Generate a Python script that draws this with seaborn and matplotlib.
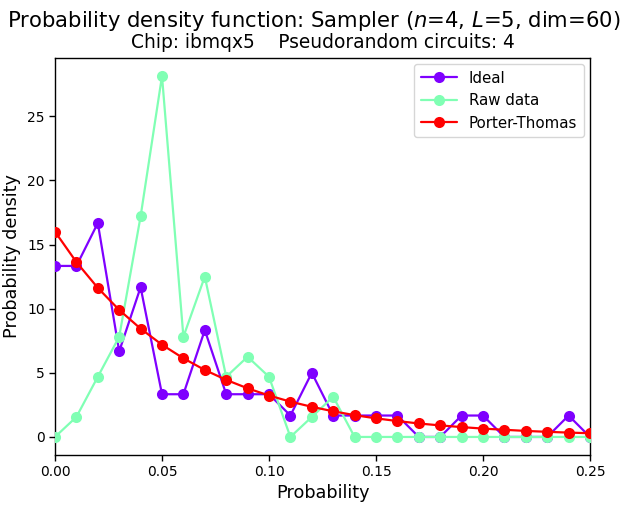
import numpy as np
import pandas as pd
import matplotlib
matplotlib.use("Agg")
import matplotlib.pyplot as plt
import seaborn as sns
from matplotlib.lines import Line2D

probability = [0.00, 0.01, 0.02, 0.03, 0.04, 0.05, 0.06, 0.07, 0.08, 0.09,
               0.10, 0.11, 0.12, 0.13, 0.14, 0.15, 0.16, 0.17, 0.18, 0.19,
               0.20, 0.21, 0.22, 0.23, 0.24, 0.25]
ideal = [13.33, 13.33, 16.67, 6.67, 11.67, 3.33, 3.33, 8.33, 3.33, 3.33,
         3.33, 1.67, 5.00, 1.67, 1.67, 1.67, 1.67, 0.00, 0.00, 1.67,
         1.67, 0.00, 0.00, 0.00, 1.67, 0.00]
raw_data = [0.00, 1.56, 4.69, 7.81, 17.19, 28.13, 7.81, 12.50, 4.69, 6.25,
            4.69, 0.00, 1.56, 3.13, 0.00, 0.00, 0.00, 0.00, 0.00, 0.00,
            0.00, 0.00, 0.00, 0.00, 0.00, 0.00]
porter_thomas = [16.00, 13.63, 11.62, 9.90, 8.44, 7.19, 6.13, 5.22, 4.45, 3.79,
                 3.23, 2.75, 2.35, 2.00, 1.70, 1.45, 1.24, 1.05, 0.90, 0.77,
                 0.65, 0.56, 0.47, 0.40, 0.34, 0.29]
series_names = ["Ideal", "Raw data", "Porter-Thomas"]
series_colors = ["#7f00ff", "#80ffb4", "#ff0000"]
x_ticks = [0.0, 0.05, 0.10, 0.15, 0.20, 0.25]
x_ticklabels = ["0.00", "0.05", "0.10", "0.15", "0.20", "0.25"]
y_ticks = [0, 5, 10, 15, 20, 25]

df = pd.concat([
    pd.DataFrame({"Probability": probability, "Density": vals, "Series": name})
    for name, vals in zip(series_names, [ideal, raw_data, porter_thomas])
], ignore_index=True)

sns.set_theme(style="ticks")
plt.rcParams["font.family"] = ["DejaVu Sans"]
plt.rcParams["axes.edgecolor"] = "black"
plt.rcParams["xtick.color"] = "black"
plt.rcParams["ytick.color"] = "black"
plt.rcParams["axes.labelcolor"] = "black"
plt.rcParams["text.color"] = "black"

fig = plt.figure(figsize=(6.27, 5.08), dpi=100)
ax = fig.add_axes([55/627, 53/508, 535/627, 397/508])

sns.lineplot(data=df, x="Probability", y="Density", hue="Series",
             hue_order=series_names, palette=series_colors,
             marker="o", markersize=8, markeredgewidth=0, linewidth=1.6,
             ax=ax, legend=False, zorder=3)

handles = [Line2D([0], [0], color=c, marker="o", markersize=8,
                  markeredgewidth=0, linewidth=1.6) for c in series_colors]
ax.legend(handles, series_names, loc="upper right", fontsize=10.8,
          frameon=True, fancybox=True, edgecolor="#cccccc", framealpha=0.8,
          borderaxespad=0.4, handlelength=2.4, borderpad=0.45)

ax.set_xlim(0, 0.25)
ax.set_xticks(x_ticks)
ax.set_xticklabels(x_ticklabels)
ax.set_yticks(y_ticks)
ax.tick_params(labelsize=10, length=4, width=1, direction="out")
for s in ax.spines.values():
    s.set_linewidth(1.0)
    s.set_visible(True)
ax.set_xlabel("Probability", fontsize=12.7, labelpad=3)
ax.set_ylabel("Probability density", fontsize=12.7)

fig.suptitle(r"Probability density function: Sampler ($n$=4, $L$=5, dim=60)",
             fontsize=15.2, y=0.983)
ax.set_title("Chip: ibmqx5    Pseudorandom circuits: 4", fontsize=13.4, pad=7)

fig.savefig("out.png", dpi=100)
